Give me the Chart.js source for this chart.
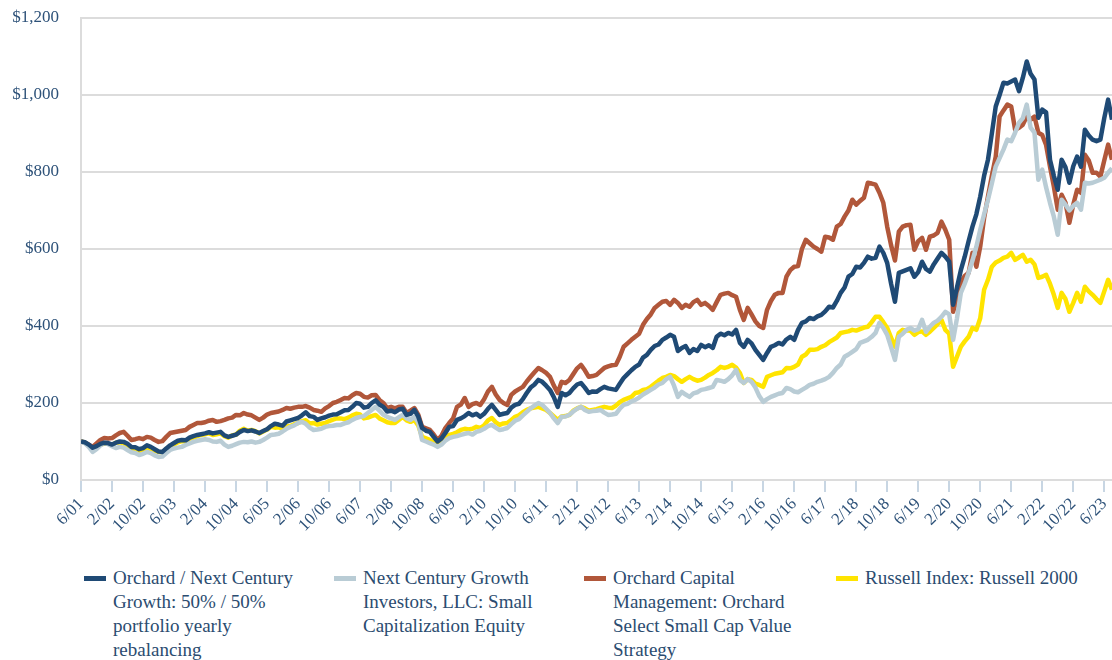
<!DOCTYPE html>
<html>
<head>
<meta charset="utf-8">
<script src="https://cdn.jsdelivr.net/npm/chart.js@4.4.1/dist/chart.umd.min.js"></script>
<style>
  body { margin: 0; background: #fff; font-family: "Liberation Serif", "Times New Roman", serif; }
  .wrap { position: relative; width: 1112px; height: 660px; overflow: hidden; }
  #chart { position: absolute; left: 0; top: 0; }
  .legend { position: absolute; left: 0; top: 566px; width: 1112px; }
  .legend-item { position: absolute; top: 0; font-size: 19px; line-height: 24px; color: #2b4c70; }
  .legend-item .swatch { position: absolute; left: 0; top: 10px; width: 22px; height: 5px; }
  .legend-item .text { position: absolute; left: 29px; top: 0; white-space: nowrap; }
</style>
</head>
<body>
<div class="wrap">
  <canvas id="chart" width="1112" height="560"></canvas>
  <div class="legend" id="legend"></div>
</div>
<script>
// monthly values, 6/01 .. 8/23 (one row per calendar year)
var blend = [].concat(
  [100, 98, 92, 84, 88, 94, 97],
  [96, 92, 97, 100, 99, 94, 86, 85, 80, 83, 90, 86],
  [80, 74, 73, 82, 90, 96, 102, 104, 103, 110, 114, 117],
  [119, 121, 124, 121, 123, 125, 116, 112, 115, 118, 125, 130],
  [127, 129, 126, 122, 127, 132, 140, 146, 144, 141, 152, 155],
  [158, 161, 168, 176, 166, 164, 156, 160, 163, 167, 170, 171],
  [176, 181, 182, 190, 200, 198, 188, 190, 200, 207, 196, 190],
  [178, 180, 176, 183, 185, 169, 172, 182, 165, 135, 128, 125],
  [112, 100, 108, 122, 138, 140, 156, 160, 166, 174, 168, 172],
  [164, 172, 185, 195, 182, 169, 172, 174, 188, 195, 198, 210],
  [226, 240, 248, 260, 255, 245, 234, 215, 190, 226, 220, 226],
  [238, 248, 252, 240, 226, 230, 229, 236, 242, 238, 236, 234],
  [250, 265, 275, 285, 294, 300, 318, 325, 338, 348, 352, 364],
  [370, 377, 372, 335, 343, 348, 330, 340, 335, 351, 345, 350],
  [343, 372, 380, 376, 382, 378, 390, 356, 346, 364, 355, 338],
  [325, 312, 330, 346, 350, 356, 352, 365, 372, 364, 390, 408],
  [412, 421, 418, 425, 429, 438, 450, 448, 465, 486, 500, 528],
  [535, 554, 552, 564, 580, 575, 577, 606, 590, 564, 510, 463],
  [538, 542, 546, 550, 528, 540, 567, 548, 541, 560, 575, 590],
  [580, 567, 455, 500, 545, 580, 620, 658, 690, 736, 790, 832],
  [900, 970, 1000, 1032, 1030, 1035, 1040, 1010, 1045, 1087, 1055, 1040],
  [941, 962, 955, 832, 790, 754, 832, 812, 772, 815, 840, 814],
  [910, 895, 884, 880, 884, 940, 988, 936]
);

var nextCentury = [].concat(
  [100, 96, 86, 73, 80, 90, 96],
  [93, 88, 83, 86, 84, 78, 72, 70, 65, 68, 73, 70],
  [64, 60, 61, 70, 78, 82, 84, 86, 91, 95, 99, 102],
  [104, 106, 104, 100, 99, 102, 92, 86, 89, 93, 97, 99],
  [98, 100, 97, 99, 104, 110, 117, 118, 120, 126, 133, 138],
  [142, 148, 151, 146, 136, 130, 131, 133, 138, 140, 141, 143],
  [143, 147, 150, 156, 161, 164, 166, 174, 182, 190, 180, 170],
  [164, 160, 156, 163, 169, 160, 156, 164, 150, 104, 100, 96],
  [92, 86, 92, 102, 109, 112, 114, 117, 120, 122, 118, 125],
  [128, 133, 140, 143, 136, 130, 132, 135, 145, 154, 158, 168],
  [177, 186, 193, 200, 195, 185, 174, 160, 148, 164, 165, 169],
  [178, 185, 190, 182, 177, 179, 180, 182, 175, 169, 170, 172],
  [185, 195, 198, 204, 208, 214, 222, 228, 234, 240, 248, 252],
  [262, 268, 245, 216, 229, 222, 216, 225, 228, 234, 236, 239],
  [242, 260, 258, 255, 262, 272, 286, 260, 252, 262, 255, 240],
  [218, 203, 210, 216, 220, 224, 226, 239, 236, 230, 228, 234],
  [240, 247, 250, 255, 258, 262, 268, 278, 291, 300, 320, 326],
  [333, 340, 356, 360, 364, 372, 382, 408, 395, 377, 345, 312],
  [372, 380, 390, 395, 388, 392, 416, 385, 398, 408, 414, 424],
  [437, 430, 364, 420, 486, 510, 538, 570, 606, 650, 690, 728],
  [770, 814, 836, 858, 884, 880, 902, 928, 940, 975, 915, 902],
  [780, 806, 760, 720, 684, 637, 728, 715, 700, 712, 720, 702],
  [772, 770, 772, 776, 780, 785, 798, 810]
);

var orchard = [].concat(
  [100, 97, 92, 86, 95, 104, 109],
  [108, 109, 116, 122, 125, 115, 104, 106, 109, 106, 112, 110],
  [104, 99, 101, 112, 122, 124, 126, 128, 130, 138, 143, 148],
  [148, 150, 154, 156, 151, 153, 156, 160, 162, 169, 168, 174],
  [170, 168, 162, 156, 162, 170, 174, 176, 178, 182, 187, 185],
  [188, 190, 190, 192, 188, 182, 180, 177, 186, 192, 200, 203],
  [208, 213, 212, 220, 226, 224, 216, 214, 220, 221, 208, 200],
  [187, 190, 186, 190, 190, 174, 180, 187, 170, 138, 134, 130],
  [118, 104, 115, 135, 148, 160, 190, 196, 213, 190, 197, 200],
  [195, 210, 230, 242, 222, 208, 200, 195, 221, 230, 236, 242],
  [256, 268, 280, 291, 285, 278, 268, 245, 226, 255, 252, 260],
  [275, 290, 299, 285, 268, 270, 273, 282, 291, 295, 298, 299],
  [320, 346, 355, 364, 372, 380, 403, 418, 430, 447, 455, 463],
  [465, 455, 468, 460, 447, 455, 450, 462, 468, 455, 460, 452],
  [442, 462, 481, 484, 486, 480, 476, 442, 416, 447, 430, 412],
  [400, 395, 442, 465, 481, 486, 486, 528, 545, 554, 556, 600],
  [624, 615, 606, 600, 593, 632, 630, 624, 658, 665, 684, 700],
  [728, 715, 725, 733, 772, 770, 767, 746, 720, 658, 610, 570],
  [645, 658, 662, 663, 598, 620, 629, 598, 632, 635, 642, 671],
  [650, 624, 437, 470, 512, 530, 538, 590, 554, 606, 680, 736],
  [790, 840, 944, 960, 975, 970, 910, 915, 923, 944, 936, 944],
  [902, 896, 870, 814, 762, 702, 741, 720, 668, 715, 754, 746],
  [845, 830, 798, 798, 788, 830, 871, 832]
);

var russell = [].concat(
  [100, 97, 90, 78, 84, 91, 95],
  [94, 91, 97, 98, 95, 90, 80, 80, 74, 77, 84, 80],
  [76, 73, 72, 80, 88, 92, 98, 101, 100, 107, 110, 114],
  [117, 119, 121, 117, 119, 121, 114, 110, 116, 118, 128, 133],
  [128, 130, 127, 121, 126, 131, 138, 136, 137, 133, 140, 140],
  [145, 148, 153, 155, 147, 148, 144, 146, 148, 153, 157, 160],
  [160, 158, 162, 168, 172, 170, 160, 162, 166, 169, 160, 155],
  [150, 148, 148, 156, 164, 155, 151, 156, 142, 112, 108, 104],
  [98, 96, 102, 110, 117, 120, 124, 130, 133, 131, 133, 138],
  [135, 142, 155, 161, 150, 143, 147, 148, 156, 164, 168, 176],
  [182, 186, 188, 190, 186, 182, 174, 165, 156, 165, 166, 169],
  [180, 186, 190, 186, 180, 182, 184, 187, 190, 188, 187, 193],
  [202, 208, 212, 216, 226, 228, 234, 236, 242, 250, 258, 265],
  [268, 273, 270, 262, 255, 262, 268, 262, 258, 260, 266, 273],
  [278, 285, 294, 291, 294, 299, 292, 278, 252, 262, 260, 250],
  [247, 242, 268, 272, 276, 278, 280, 291, 290, 294, 300, 320],
  [326, 338, 338, 340, 346, 350, 358, 364, 370, 382, 384, 386],
  [390, 388, 392, 396, 398, 410, 424, 424, 410, 395, 370, 346],
  [382, 390, 388, 388, 377, 384, 386, 377, 385, 395, 405, 416],
  [390, 380, 294, 320, 346, 360, 372, 395, 390, 420, 494, 520],
  [554, 565, 570, 577, 580, 590, 572, 578, 585, 567, 572, 560],
  [525, 528, 533, 510, 481, 447, 486, 470, 437, 460, 486, 463],
  [502, 490, 481, 470, 460, 490, 520, 494]
);

// x tick every 8 months, starting 6/01
var tickLabels = ["6/01", "2/02", "10/02", "6/03", "2/04", "10/04", "6/05", "2/06", "10/06",
  "6/07", "2/08", "10/08", "6/09", "2/10", "10/10", "6/11", "2/12", "10/12", "6/13", "2/14",
  "10/14", "6/15", "2/16", "10/16", "6/17", "2/18", "10/18", "6/19", "2/20", "10/20", "6/21",
  "2/22", "10/22", "6/23"];

var seriesNames = [
  ["Orchard / Next Century", "Growth: 50% / 50%", "portfolio yearly", "rebalancing"],
  ["Next Century Growth", "Investors, LLC: Small", "Capitalization Equity"],
  ["Orchard Capital", "Management: Orchard", "Select Small Cap Value", "Strategy"],
  ["Russell Index: Russell 2000"]
];
var seriesColors = ["#1f4a75", "#b9ccd5", "#b1573a", "#ffe400"];
var seriesData = [blend, nextCentury, orchard, russell];

var textColor = "#2e5279";
var gridColor = "#dcdcdc";

function toPoints(arr) {
  return arr.map(function(v, i) { return { x: i, y: v }; });
}

var datasets = seriesData.map(function(arr, i) {
  return {
    label: seriesNames[i].join(" "),
    data: toPoints(arr),
    borderColor: seriesColors[i],
    backgroundColor: seriesColors[i],
    borderWidth: 4.5,
    borderJoinStyle: "round",
    pointRadius: 0,
    tension: 0,
    fill: false
  };
});

Chart.defaults.font.family = '"Liberation Serif", "Times New Roman", serif';

var ctx = document.getElementById("chart").getContext("2d");
var chart = new Chart(ctx, {
  type: "line",
  data: { datasets: datasets },
  options: {
    responsive: false,
    animation: false,
    layout: { padding: { top: 18, right: 0, bottom: 0, left: 0 } },
    plugins: {
      legend: { display: false },
      tooltip: { enabled: false }
    },
    scales: {
      x: {
        type: "linear",
        min: 0,
        max: blend.length - 1,
        afterBuildTicks: function(scale) {
          scale.ticks = tickLabels.map(function(t, i) { return { value: i * 8 }; });
        },
        afterFit: function(scale) {
          scale.height = 80;
          scale.paddingLeft = 0;
          scale.paddingRight = 0;
        },
        grid: {
          drawOnChartArea: false,
          drawTicks: true,
          tickLength: 12,
          color: "#c8d6e3",
          lineWidth: 2
        },
        border: { color: gridColor, width: 2 },
        ticks: {
          autoSkip: false,
          minRotation: 45,
          maxRotation: 45,
          padding: 2,
          color: textColor,
          font: { size: 17 },
          callback: function(v) { return tickLabels[Math.round(v / 8)]; }
        }
      },
      y: {
        min: 0,
        max: 1200,
        afterFit: function(scale) {
          scale.width = 81;
          scale.paddingTop = 0;
          scale.paddingBottom = 0;
        },
        grid: { color: gridColor, lineWidth: 2, drawTicks: false },
        border: { color: gridColor, width: 2 },
        ticks: {
          stepSize: 200,
          padding: 22,
          color: textColor,
          font: { size: 17 },
          callback: function(v) { return "$" + v.toLocaleString("en-US"); }
        }
      }
    }
  }
});

// legend with wrapped labels, built from the datasets
var legend = document.getElementById("legend");
var legendLeft = [84, 334, 584, 836];
chart.data.datasets.forEach(function(ds, i) {
  var item = document.createElement("div");
  item.className = "legend-item";
  item.style.left = legendLeft[i] + "px";
  item.innerHTML = '<span class="swatch" style="background:' + ds.borderColor + '"></span>' +
    '<span class="text">' + seriesNames[i].join("<br>") + "</span>";
  legend.appendChild(item);
});
</script>
</body>
</html>
